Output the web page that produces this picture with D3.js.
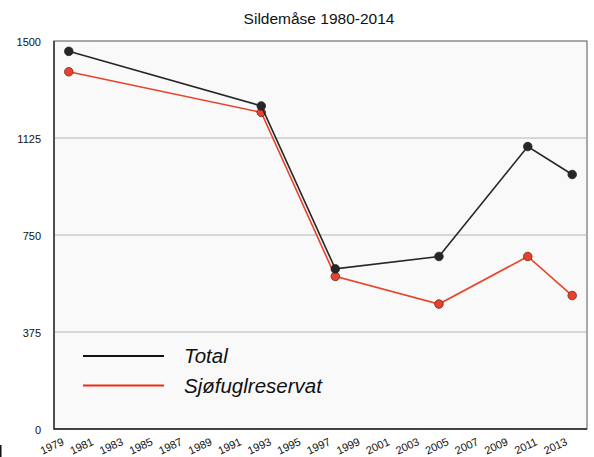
<!DOCTYPE html>
<html lang="no">
<head>
    <meta charset="UTF-8">
    <title>Sildemåse 1980-2014</title>
    <script src="https://d3js.org/d3.v7.min.js"></script>
    <style>
        body { margin: 0; background: #fff; }
        text { font-family: "Liberation Sans", Arial, Helvetica, sans-serif; fill: #111; }
        .grid { stroke: #b4b4b4; stroke-width: 1px; }
    </style>
</head>
<body>
    <div id="chart"></div>

    <script>
        // Data
        const years = [1980, 1993, 1998, 2005, 2011, 2014];
        const total = [1460, 1249, 619, 667, 1092, 984];
        const sjofugl = [1381, 1224, 590, 483, 667, 516];
        const yTicks = [0, 375, 750, 1125, 1500];
        const xTicks = d3.range(1979, 2014, 2);

        const width = 594, height = 457;
        const margin = {top: 41, right: 7, bottom: 28, left: 54};

        const svg = d3.select("#chart").append("svg")
            .attr("width", width)
            .attr("height", height);

        const x = d3.scaleLinear().domain([1979, 2015]).range([margin.left, width - margin.right]);
        const y = d3.scaleLinear().domain([0, 1500]).range([height - margin.bottom, margin.top]);

        // plot background
        svg.append("rect")
            .attr("x", margin.left).attr("y", margin.top)
            .attr("width", width - margin.right - margin.left)
            .attr("height", height - margin.bottom - margin.top)
            .attr("fill", "#f9f9f9")
            .attr("stroke", "#555").attr("stroke-width", 1);

        // gridlines
        svg.selectAll(".grid")
            .data(yTicks.filter(d => d > 0 && d < 1500))
            .enter().append("line")
            .attr("class", "grid")
            .attr("x1", margin.left).attr("x2", width - margin.right)
            .attr("y1", d => y(d)).attr("y2", d => y(d));

        // left + bottom axis lines
        svg.append("path")
            .attr("d", "M" + margin.left + "," + margin.top + "V" + y(0) + "H" + (width - margin.right))
            .attr("fill", "none").attr("stroke", "#222").attr("stroke-width", 1.3);

        // y tick labels
        svg.selectAll(".ylab")
            .data(yTicks)
            .enter().append("text")
            .attr("class", "ylab")
            .attr("x", 41).attr("y", d => y(d) + 1)
            .attr("dy", "0.35em")
            .attr("text-anchor", "end")
            .style("font-size", "11px")
            .text(d => d);

        // x tick labels, rotated
        svg.selectAll(".xlab")
            .data(xTicks)
            .enter().append("text")
            .attr("class", "xlab")
            .attr("transform", d => "translate(" + (x(d) - 2) + "," + (y(0) + 17) + ") rotate(-25)")
            .attr("text-anchor", "middle")
            .attr("dy", "0.35em")
            .style("font-size", "11px")
            .text(d => d);

        // title
        svg.append("text")
            .attr("x", 319).attr("y", 24)
            .attr("text-anchor", "middle")
            .style("font-size", "15.5px")
            .text("Sildemåse 1980-2014");

        const line = d3.line()
            .x((d, i) => x(years[i]))
            .y(d => y(d));

        const series = [
            {name: "Sjøfuglreservat", values: sjofugl, color: "#e8432a", dot: "#e8432a", edge: "#6b2a1e"},
            {name: "Total", values: total, color: "#262626", dot: "#262626", edge: "#262626"}
        ];

        series.forEach(function(s) {
            svg.append("path")
                .datum(s.values)
                .attr("fill", "none")
                .attr("stroke", s.color)
                .attr("stroke-width", 1.6)
                .attr("d", line);

            svg.selectAll(null)
                .data(s.values)
                .enter().append("circle")
                .attr("cx", (d, i) => x(years[i]))
                .attr("cy", d => y(d))
                .attr("r", 4.3)
                .attr("fill", s.dot)
                .attr("stroke", s.edge)
                .attr("stroke-width", 0.8);
        });

        // legend
        const legend = [
            {name: "Total", color: "#111"},
            {name: "Sjøfuglreservat", color: "#ee2a10"}
        ];
        const lg = svg.selectAll(".legend")
            .data(legend)
            .enter().append("g")
            .attr("class", "legend")
            .attr("transform", (d, i) => "translate(83," + (356 + i * 29.5) + ")");

        lg.append("line")
            .attr("x1", 0).attr("x2", 81)
            .attr("stroke", d => d.color)
            .attr("stroke-width", 2);

        lg.append("text")
            .attr("x", 101).attr("dy", "0.35em")
            .style("font-size", "20.5px")
            .style("font-style", "italic")
            .text(d => d.name);

        // small dark mark at the bottom-left edge of the picture
        svg.append("rect")
            .attr("x", 0).attr("y", 445)
            .attr("width", 1.5).attr("height", 12)
            .attr("fill", "#111");
    </script>
</body>
</html>
